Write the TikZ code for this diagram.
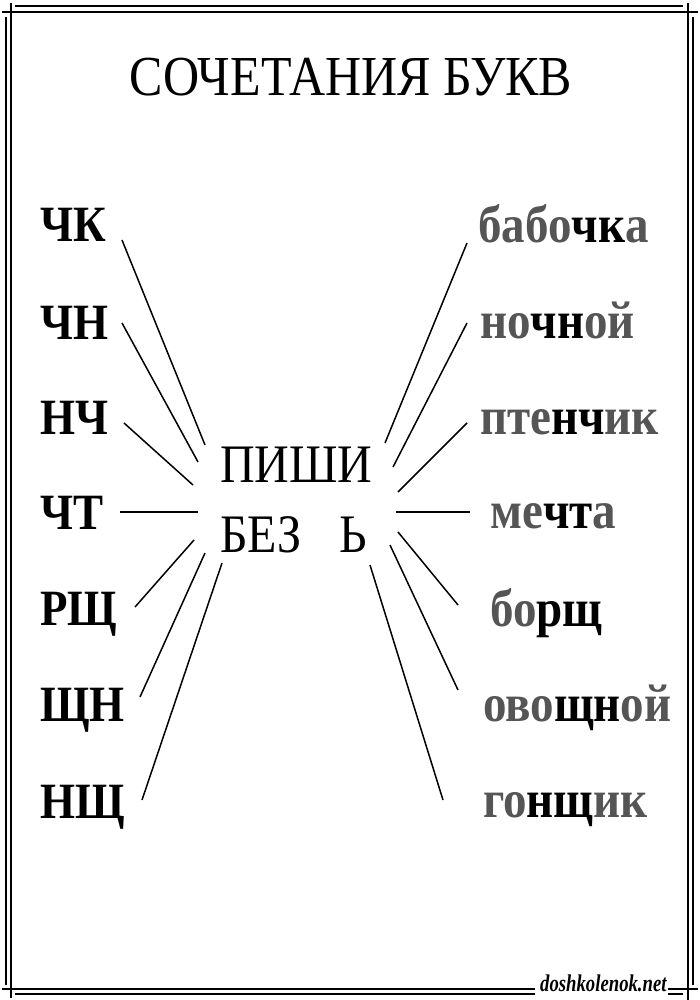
\documentclass[tikz,border=0pt]{standalone}
\usepackage{fontspec}
\setmainfont{Liberation Serif}
\definecolor{greyletters}{HTML}{555555}
\newcommand{\vs}[1]{\scalebox{1}[1.13]{#1}}
\tikzset{
  frame/.style={line width=2.2pt, black},
  conn/.style={line width=1.5pt, black},
  pair/.style={anchor=base west, inner sep=0pt, font=\fontsize{45}{45}\selectfont\bfseries},
  word/.style={anchor=base west, inner sep=0pt, font=\fontsize{47}{47}\selectfont\bfseries, text=greyletters},
  center/.style={anchor=base west, inner sep=0pt, font=\fontsize{48}{48}\selectfont},
  titletext/.style={anchor=base, inner sep=0pt, font=\fontsize{50}{50}\selectfont}
}
\newcommand{\hl}[1]{\textcolor{black}{#1}}
\begin{document}
\begin{tikzpicture}[x=1pt,y=-1pt]
\useasboundingbox[fill=white] (0,0) rectangle (700,1000);
% frame
\draw[frame] (15,6) -- (683,6);
\draw[frame] (2,12) -- (698,12);
\draw[frame] (6,17) -- (6,985);
\draw[frame] (11,3) -- (11,998);
\draw[frame] (693,17) -- (693,985);
\draw[frame] (688,3) -- (688,1000);
\draw[frame] (2,989) -- (535,989);
\draw[frame] (15,994) -- (535,994);
\draw[frame] (668,989) -- (698,989);
\draw[frame] (668,994) -- (683,994);
\node[anchor=base west, inner sep=0pt] (wm) at (540,991)
  {\scalebox{0.78}[1]{\fontsize{24}{24}\selectfont\bfseries\itshape doshkolenok.net}};
% title
\node[titletext] (title) at (351,96) {\vs{СОЧЕТАНИЯ БУКВ}};
% left pairs
\node[pair] (p1) at (40,241) {\vs{ЧК}};
\node[pair] (p2) at (40,339) {\vs{ЧН}};
\node[pair] (p3) at (40,434) {\vs{НЧ}};
\node[pair] (p4) at (40,529) {\vs{ЧТ}};
\node[pair] (p5) at (40,625) {\vs{РЩ}};
\node[pair] (p6) at (40,721) {\vs{ЩН}};
\node[pair] (p7) at (40,818) {\vs{НЩ}};
% centre
\node[center] (c1) at (220,482) {\vs{ПИШИ}};
\node[center] (c2) at (220,552) {\vs{БЕЗ\hspace{38pt}Ь}};
% right words
\node[word] (w1) at (478,242) {\vs{бабо\hl{чк}а}};
\node[word] (w2) at (480,338) {\vs{но\hl{чн}ой}};
\node[word] (w3) at (480,434) {\vs{пте\hl{нч}ик}};
\node[word] (w4) at (490,528) {\vs{ме\hl{чт}а}};
\node[word] (w5) at (490,626) {\vs{бо\hl{рщ}}};
\node[word] (w6) at (483,721) {\vs{ово\hl{щн}ой}};
\node[word] (w7) at (483,817) {\vs{го\hl{нщ}ик}};
% connector ends
\coordinate (a1) at (122,240); \coordinate (b1) at (205,445);
\coordinate (a2) at (122,323); \coordinate (b2) at (198,462);
\coordinate (a3) at (124,423); \coordinate (b3) at (193,485);
\coordinate (a4) at (120,512); \coordinate (b4) at (198,512);
\coordinate (a5) at (135,607); \coordinate (b5) at (194,540);
\coordinate (a6) at (140,697); \coordinate (b6) at (205,553);
\coordinate (a7) at (142,800); \coordinate (b7) at (222,563);
\coordinate (d1) at (467,243); \coordinate (e1) at (385,443);
\coordinate (d2) at (467,323); \coordinate (e2) at (393,467);
\coordinate (d3) at (467,423); \coordinate (e3) at (398,492);
\coordinate (d4) at (470,512); \coordinate (e4) at (396,512);
\coordinate (d5) at (458,605); \coordinate (e5) at (398,532);
\coordinate (d6) at (458,690); \coordinate (e6) at (390,545);
\coordinate (d7) at (443,800); \coordinate (e7) at (370,565);
\foreach \i in {1,...,7} {
  \draw[conn] (a\i) -- (b\i);
  \draw[conn] (d\i) -- (e\i);
}
\end{tikzpicture}
\end{document}
